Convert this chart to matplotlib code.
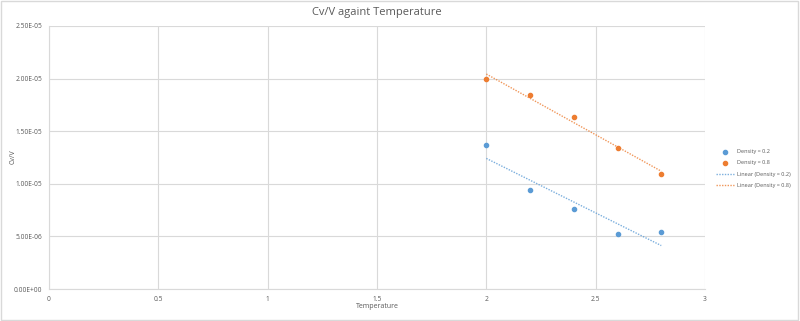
import numpy as np
import matplotlib.pyplot as plt
from matplotlib.ticker import FuncFormatter

plt.rcParams['font.family'] = ['Open Sans', 'DejaVu Sans']

temperature = [2.0, 2.2, 2.4, 2.6, 2.8]
cv_d02 = [1.369e-5, 0.941e-5, 0.760e-5, 0.523e-5, 0.542e-5]
cv_d08 = [1.996e-5, 1.844e-5, 1.635e-5, 1.340e-5, 1.093e-5]

blue = '#5B9BD5'
orange = '#ED7D31'
txt = '#595959'

fig = plt.figure(figsize=(8, 3.21), dpi=100)
ax = fig.add_axes([49/800, 1-289/321, (705-49)/800, (289-26)/321])

ax.scatter(temperature, cv_d02, s=9, color=blue, label='Density = 0.2', zorder=3)
ax.scatter(temperature, cv_d08, s=9, color=orange, label='Density = 0.8', zorder=3)

# linear trendlines
t = np.array(temperature)
for ys, c, name in [(cv_d02, blue, 'Linear (Density = 0.2)'), (cv_d08, orange, 'Linear (Density = 0.8)')]:
    k, b = np.polyfit(t, ys, 1)
    ax.plot(t, k*t + b, color=c, ls=(0, (1, 1)), lw=1.0, alpha=0.8, label=name, zorder=2)

ax.set_xlim(0, 3)
ax.set_ylim(0, 2.5e-5)
ax.set_xticks([0, 0.5, 1, 1.5, 2, 2.5, 3])
ax.set_xticklabels(['0', '0.5', '1', '1.5', '2', '2.5', '3'])
ax.set_yticks(np.arange(0, 2.51e-5, 5e-6))
ax.yaxis.set_major_formatter(FuncFormatter(lambda v, p: ('%.2E' % v)))
ax.grid(True, color='#D9D9D9', lw=0.8)
ax.set_axisbelow(True)
for s in ['top', 'right']:
    ax.spines[s].set_visible(False)
for s in ['left', 'bottom']:
    ax.spines[s].set_color('#D9D9D9')
ax.tick_params(length=0, labelsize=4.8, colors=txt, pad=5)

fig.text(377/800, 1-12/321, 'Cv/V againt Temperature', fontsize=8, color=txt, ha='center', va='center')
fig.text(377/800, 1-307/321, 'Temperature', fontsize=5, color=txt, ha='center', va='center')
fig.text(13/800, 1-157/321, 'Cv/V', fontsize=5, color=txt, ha='center', va='center', rotation=90)

ax.legend(loc='upper left', bbox_to_anchor=(716/800, 1-149/321), bbox_transform=fig.transFigure,
          frameon=False, fontsize=4.0, labelcolor=txt, handlelength=3.2, handletextpad=0.55,
          labelspacing=1.15, borderaxespad=0, borderpad=0)

fig.patches.append(plt.Rectangle((0.001, 0.002), 0.997, 0.995, transform=fig.transFigure,
                                 fill=False, edgecolor='#D9D9D9', lw=1))

fig.savefig('out.png', dpi=100, facecolor='white')
